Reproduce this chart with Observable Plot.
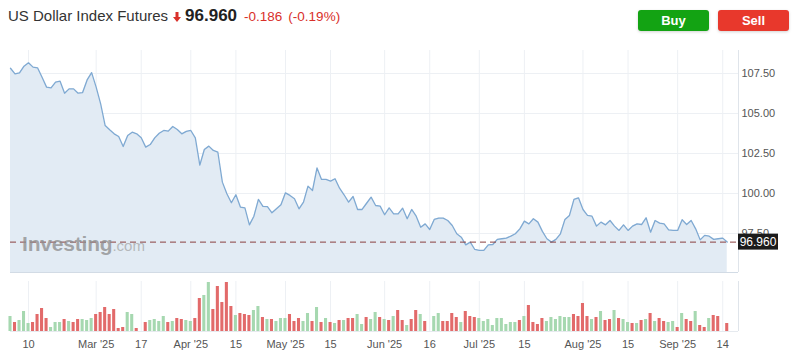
<!DOCTYPE html>
<html><head><meta charset="utf-8">
<script src="https://cdn.jsdelivr.net/npm/d3@7"></script>
<script src="https://cdn.jsdelivr.net/npm/@observablehq/plot@0.6"></script>
<style>
body{margin:0;background:#fff;font-family:"Liberation Sans",Arial,sans-serif;}
#wrap{position:relative;width:800px;height:353px;overflow:hidden;background:#fff;}
#title{position:absolute;left:8px;top:7px;font-size:15px;line-height:18px;color:#333;white-space:nowrap;}
#title .last{font-weight:bold;font-size:17px;color:#222;margin-left:4px;}
#title .chg{color:#d9302a;font-size:13.5px;font-weight:500;margin-left:7px;}
#title svg{vertical-align:-1px;margin-left:5px;}
.btn{position:absolute;top:10px;width:71px;height:21px;line-height:21px;border-radius:3px;color:#fff;font-weight:bold;font-size:13px;text-align:center;box-shadow:0 1px 3px rgba(0,0,0,0.18);}
.buy{left:638px;background:#13a313;}
.sell{left:718px;background:#e8382c;}
#price{position:absolute;left:0;top:45px;}
#vol{position:absolute;left:0;top:277px;}
#wm{position:absolute;left:22px;top:233px;font-size:21px;line-height:21px;font-weight:bold;color:rgba(140,140,140,0.75);letter-spacing:-0.2px;white-space:nowrap;}
#wm span{font-weight:normal;font-size:15px;color:rgba(160,160,160,0.7);letter-spacing:0;}
</style></head><body>
<div id="wrap">
  <div id="title"></div>
  <div class="btn buy">Buy</div>
  <div class="btn sell">Sell</div>
  <div id="price"></div>
  <div id="vol"></div>
  <div id="wm">Investing<span>.com</span></div>
</div>
<script>
// ---- data ----
const instrument = "US Dollar Index Futures";
const lastPrice = 96.960;
const change = -0.186;
const changePct = -0.19;

const closes = [
 107.83,107.48,107.54,107.96,108.17,107.90,107.86,107.27,106.65,106.60,
 106.96,107.02,106.27,106.54,106.54,106.27,106.31,107.10,107.56,106.65,
 105.60,104.25,103.98,103.73,103.56,102.94,103.63,103.83,103.73,103.48,
 102.90,103.06,103.48,103.77,103.94,103.90,104.19,104.00,103.73,103.88,
 103.94,103.48,101.77,102.75,102.96,102.69,102.58,100.71,99.98,99.42,
 99.92,99.15,99.10,98.04,98.58,99.63,99.20,99.18,98.79,99.04,
 99.29,100.04,99.88,99.67,99.04,99.46,100.46,100.19,101.60,100.88,
 100.88,100.77,100.92,100.33,99.92,99.46,99.81,99.00,99.00,99.39,
 99.77,99.25,99.21,98.67,99.10,98.73,98.73,99.08,98.42,99.00,
 98.58,97.89,98.10,97.75,98.38,98.46,98.46,98.31,98.00,97.48,
 97.27,96.79,96.96,96.50,96.44,96.44,96.79,96.81,97.13,97.17,
 97.21,97.33,97.48,97.79,98.27,98.10,98.42,98.21,97.63,97.17,
 96.96,97.13,97.48,98.38,98.63,99.63,99.73,99.00,98.63,98.58,
 97.96,98.21,98.04,98.31,97.96,97.69,98.04,97.69,97.96,98.10,
 98.06,98.48,97.58,98.31,98.15,98.10,97.73,97.69,97.69,98.36,
 98.06,98.31,97.79,97.10,97.38,97.33,97.13,97.17,97.21,96.96
];

const volumes = [
 15,9,11,20,8,9,17,23,13,4,
 9,9,12,10,9,12,12,11,13,17,
 19,24,17,22,3,4,19,17,3,0,
 9,11,12,10,15,9,10,13,12,11,
 10,13,33,36,49,22,45,29,49,25,
 16,18,17,16,21,25,14,12,12,10,
 13,13,17,10,13,10,18,10,24,9,
 13,9,8,11,11,13,13,17,7,14,
 12,19,14,12,11,15,21,11,6,12,
 21,17,10,0,15,18,10,10,18,14,
 9,20,15,14,13,10,12,6,13,13,
 7,9,9,11,15,26,9,7,13,10,
 14,12,15,14,14,17,15,28,15,12,
 14,20,11,12,21,13,12,9,8,8,
 11,12,18,10,13,10,9,10,4,18,
 12,10,20,6,4,13,16,15,0,8
];
// U = up day (green), D = down day (red)
const volumeDirection = (
 "UDUUUDDDDUUUDUDDUUUDDDDDDDUUDD" +
 "DUUUUDUDDUUDDUUDDDDDUDDDUUDUDU" +
 "UUDDDUUDUDUDUDUDDUUDUUDUDUDDUD" +
 "DUDUUUDDDDUDDDUUUUUUUUUDUDDDDU" +
 "UUUUUDDDDUDUDDUDUUDUDUDUDDUUDU" +
 "DDUDDUDD"
).split("");

const xTickIndex  = [4, 19, 29, 40, 50, 61, 71, 83, 93, 104, 114, 127, 137, 148, 158];
const xTickLabels = ["10","Mar '25","17","Apr '25","15","May '25","15","Jun '25","16","Jul '25","15","Aug '25","15","Sep '25","14"];
const yTicks = [97.5, 100, 102.5, 105, 107.5];

// ---- header ----
document.getElementById("title").innerHTML =
  instrument +
  '<svg width="8" height="10" viewBox="0 0 8 10"><path d="M2.5 0h3v5h2.5L4 10 0 5h2.5z" fill="#d9302a"/></svg>' +
  '<span class="last">' + lastPrice.toFixed(3) + '</span>' +
  '<span class="chg">' + (change < 0 ? "-" : "+") + Math.abs(change).toFixed(3) + '</span>' +
  '<span class="chg" style="margin-left:6px">(' + (changePct < 0 ? "-" : "+") + Math.abs(changePct).toFixed(2) + '%)</span>';

// ---- charts ----
const series = closes.map((v, i) => ({i, v}));
const vol = volumes.map((v, i) => ({i, v, dir: volumeDirection[i] === "U" ? "up" : "down"}));
const xMax = 161.5;
const yMin = 95.06, yMax = 108.94;
const labelMap = new Map(xTickIndex.map((d, k) => [d, xTickLabels[k]]));
const gridColor = "#edf0f4";
const font = '"Liberation Sans", Arial, sans-serif';

const price = Plot.plot({
  width: 800, height: 232,
  marginLeft: 10, marginRight: 62, marginTop: 5, marginBottom: 5,
  x: {domain: [0, xMax], axis: null},
  y: {domain: [yMin, yMax], axis: null, label: null},
  style: {fontFamily: font, fontSize: "11px", color: "#555", background: "transparent"},
  marks: [
    Plot.gridY(yTicks, {stroke: gridColor, strokeOpacity: 1}),
    Plot.gridX(xTickIndex, {stroke: gridColor, strokeOpacity: 1}),
    Plot.areaY(series, {x: "i", y1: yMin, y2: "v", fill: "#e2ebf4"}),
    Plot.lineY(series, {x: "i", y: "v", stroke: "#7fa9d2", strokeWidth: 1.3}),
    Plot.ruleY([yMin], {stroke: "#d2dbe5"}),
    Plot.ruleX([xMax], {stroke: "#dfe4ea"}),
    Plot.ruleY([lastPrice], {stroke: "#8a3f3f", strokeDasharray: "6,4", strokeWidth: 1}),
    Plot.axisY(yTicks, {anchor: "right", label: null, tickSize: 0, tickPadding: 3, tickFormat: d => d.toFixed(2), fill: "#555", fontSize: 11})
  ]
});
document.getElementById("price").appendChild(price);

// last-price tag using the chart's scales
{
  const ys = price.scale("y"), xs = price.scale("x");
  const yy = ys.apply(lastPrice), xx = xs.apply(xMax);
  const svg = d3.select(price);
  svg.append("rect").attr("x", xx).attr("y", yy - 8).attr("width", 40).attr("height", 16).attr("fill", "#1b1b1b");
  svg.append("text").attr("x", xx + 20).attr("y", yy).attr("dy", "0.35em").attr("text-anchor", "middle")
    .attr("fill", "#fff").attr("font-size", 12).attr("font-family", font).text(lastPrice.toFixed(3));
}

const volume = Plot.plot({
  width: 800, height: 76,
  marginLeft: 10, marginRight: 62, marginTop: 4, marginBottom: 22,
  x: {domain: [0, xMax], axis: null, label: null},
  y: {domain: [0, 50], axis: null},
  color: {domain: ["up", "down"], range: ["#a6d8b0", "#e26a6a"]},
  style: {fontFamily: font, fontSize: "11px", color: "#555", background: "transparent"},
  marks: [
    Plot.gridX(xTickIndex, {stroke: gridColor, strokeOpacity: 1}),
    Plot.rectY(vol, {x1: d => d.i - 0.34, x2: d => d.i + 0.34, y: "v", fill: "dir"}),
    Plot.ruleY([0], {stroke: "#e6eaef"}),
    Plot.ruleX([xMax], {stroke: "#dfe4ea"}),
    Plot.axisX(xTickIndex, {anchor: "bottom", label: null, tickSize: 0, tickPadding: 9, tickFormat: d => labelMap.get(d), fill: "#555", fontSize: 11})
  ]
});
document.getElementById("vol").appendChild(volume);
</script>
</body></html>
